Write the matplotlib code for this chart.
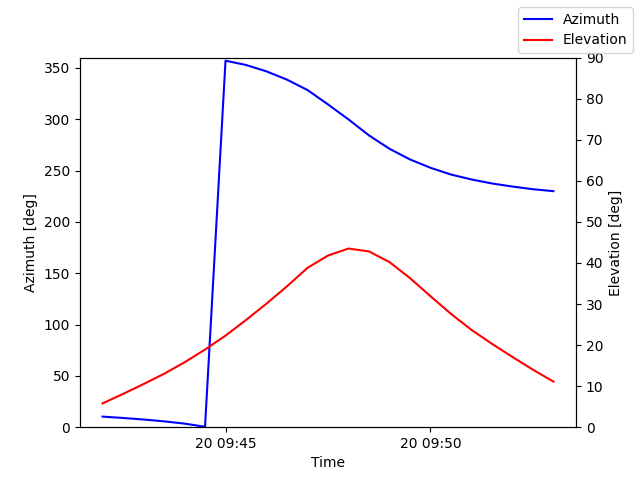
import datetime
import matplotlib
matplotlib.use('Agg')
import matplotlib.pyplot as plt

t0 = datetime.datetime(2023, 3, 20, 9, 42, 0)
times = [t0 + datetime.timedelta(seconds=30 * i) for i in range(23)]

azimuth = [10.3, 9.0, 7.5, 5.7, 3.5, 0.4,
           357.0, 352.8, 346.6, 338.5, 328.4, 314.4, 299.8, 284.2, 271.2,
           260.8, 252.7, 246.1, 241.3, 237.4, 234.4, 231.8, 229.9]
elevation = [5.8, 8.1, 10.5, 13.0, 15.8, 18.9, 22.3, 26.1, 30.1, 34.3, 38.8,
             41.8, 43.5, 42.8, 40.2, 36.3, 31.9, 27.6, 23.7, 20.3, 17.1, 14.0, 11.1]

fig, ax = plt.subplots()
ax.plot(times, azimuth, 'b', label='Azimuth')
ax.set_ylim(0, 360)
ax.set_xlabel('Time')
ax.set_ylabel('Azimuth [deg]')

ax2 = ax.twinx()
ax2.plot(times, elevation, 'r', label='Elevation')
ax2.set_ylim(0, 90)
ax2.set_ylabel('Elevation [deg]')

fig.legend()
plt.savefig('out.png')
